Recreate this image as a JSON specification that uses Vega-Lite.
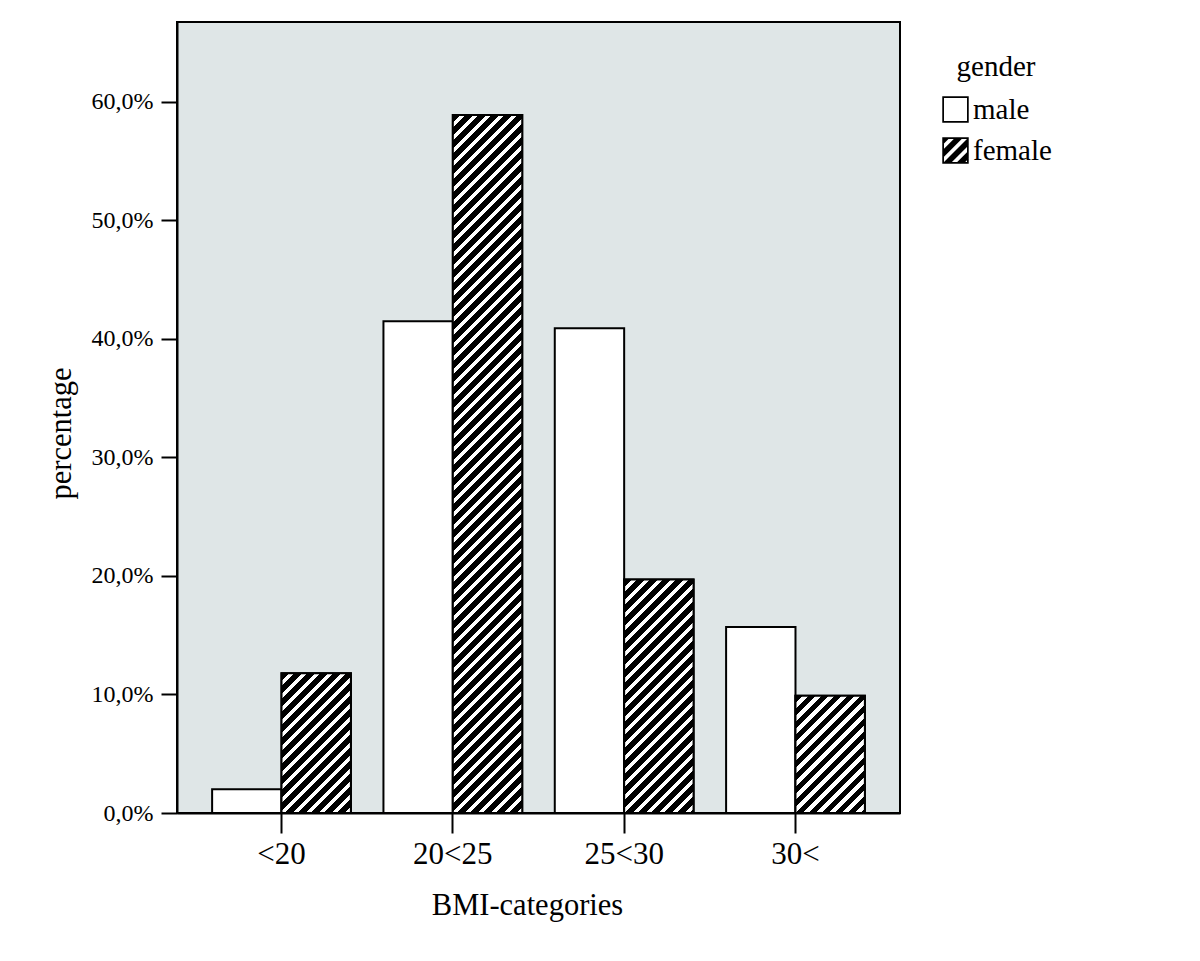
{
  "$schema": "https://vega.github.io/schema/vega-lite/v6.json",
  "width": 723,
  "height": 791,
  "autosize": {"type": "none"},
  "padding": {"left": 177, "top": 22, "right": 300, "bottom": 148},
  "background": "white",
  "params": [
    {"name": "hatch", "value": [
      {"offset":0,"color":"#000"},{"offset":0.006,"color":"#000"},{"offset":0.006,"color":"#fff"},{"offset":0.01,"color":"#fff"},
      {"offset":0.01,"color":"#000"},{"offset":0.016,"color":"#000"},{"offset":0.016,"color":"#fff"},{"offset":0.02,"color":"#fff"},
      {"offset":0.02,"color":"#000"},{"offset":0.026,"color":"#000"},{"offset":0.026,"color":"#fff"},{"offset":0.03,"color":"#fff"},
      {"offset":0.03,"color":"#000"},{"offset":0.036,"color":"#000"},{"offset":0.036,"color":"#fff"},{"offset":0.04,"color":"#fff"},
      {"offset":0.04,"color":"#000"},{"offset":0.046,"color":"#000"},{"offset":0.046,"color":"#fff"},{"offset":0.05,"color":"#fff"},
      {"offset":0.05,"color":"#000"},{"offset":0.056,"color":"#000"},{"offset":0.056,"color":"#fff"},{"offset":0.06,"color":"#fff"},
      {"offset":0.06,"color":"#000"},{"offset":0.066,"color":"#000"},{"offset":0.066,"color":"#fff"},{"offset":0.07,"color":"#fff"},
      {"offset":0.07,"color":"#000"},{"offset":0.076,"color":"#000"},{"offset":0.076,"color":"#fff"},{"offset":0.08,"color":"#fff"},
      {"offset":0.08,"color":"#000"},{"offset":0.086,"color":"#000"},{"offset":0.086,"color":"#fff"},{"offset":0.09,"color":"#fff"},
      {"offset":0.09,"color":"#000"},{"offset":0.096,"color":"#000"},{"offset":0.096,"color":"#fff"},{"offset":0.1,"color":"#fff"},
      {"offset":0.1,"color":"#000"},{"offset":0.106,"color":"#000"},{"offset":0.106,"color":"#fff"},{"offset":0.11,"color":"#fff"},
      {"offset":0.11,"color":"#000"},{"offset":0.116,"color":"#000"},{"offset":0.116,"color":"#fff"},{"offset":0.12,"color":"#fff"},
      {"offset":0.12,"color":"#000"},{"offset":0.126,"color":"#000"},{"offset":0.126,"color":"#fff"},{"offset":0.13,"color":"#fff"},
      {"offset":0.13,"color":"#000"},{"offset":0.136,"color":"#000"},{"offset":0.136,"color":"#fff"},{"offset":0.14,"color":"#fff"},
      {"offset":0.14,"color":"#000"},{"offset":0.146,"color":"#000"},{"offset":0.146,"color":"#fff"},{"offset":0.15,"color":"#fff"},
      {"offset":0.15,"color":"#000"},{"offset":0.156,"color":"#000"},{"offset":0.156,"color":"#fff"},{"offset":0.16,"color":"#fff"},
      {"offset":0.16,"color":"#000"},{"offset":0.166,"color":"#000"},{"offset":0.166,"color":"#fff"},{"offset":0.17,"color":"#fff"},
      {"offset":0.17,"color":"#000"},{"offset":0.176,"color":"#000"},{"offset":0.176,"color":"#fff"},{"offset":0.18,"color":"#fff"},
      {"offset":0.18,"color":"#000"},{"offset":0.186,"color":"#000"},{"offset":0.186,"color":"#fff"},{"offset":0.19,"color":"#fff"},
      {"offset":0.19,"color":"#000"},{"offset":0.196,"color":"#000"},{"offset":0.196,"color":"#fff"},{"offset":0.2,"color":"#fff"},
      {"offset":0.2,"color":"#000"},{"offset":0.206,"color":"#000"},{"offset":0.206,"color":"#fff"},{"offset":0.21,"color":"#fff"},
      {"offset":0.21,"color":"#000"},{"offset":0.216,"color":"#000"},{"offset":0.216,"color":"#fff"},{"offset":0.22,"color":"#fff"},
      {"offset":0.22,"color":"#000"},{"offset":0.226,"color":"#000"},{"offset":0.226,"color":"#fff"},{"offset":0.23,"color":"#fff"},
      {"offset":0.23,"color":"#000"},{"offset":0.236,"color":"#000"},{"offset":0.236,"color":"#fff"},{"offset":0.24,"color":"#fff"},
      {"offset":0.24,"color":"#000"},{"offset":0.246,"color":"#000"},{"offset":0.246,"color":"#fff"},{"offset":0.25,"color":"#fff"},
      {"offset":0.25,"color":"#000"},{"offset":0.256,"color":"#000"},{"offset":0.256,"color":"#fff"},{"offset":0.26,"color":"#fff"},
      {"offset":0.26,"color":"#000"},{"offset":0.266,"color":"#000"},{"offset":0.266,"color":"#fff"},{"offset":0.27,"color":"#fff"},
      {"offset":0.27,"color":"#000"},{"offset":0.276,"color":"#000"},{"offset":0.276,"color":"#fff"},{"offset":0.28,"color":"#fff"},
      {"offset":0.28,"color":"#000"},{"offset":0.286,"color":"#000"},{"offset":0.286,"color":"#fff"},{"offset":0.29,"color":"#fff"},
      {"offset":0.29,"color":"#000"},{"offset":0.296,"color":"#000"},{"offset":0.296,"color":"#fff"},{"offset":0.3,"color":"#fff"},
      {"offset":0.3,"color":"#000"},{"offset":0.306,"color":"#000"},{"offset":0.306,"color":"#fff"},{"offset":0.31,"color":"#fff"},
      {"offset":0.31,"color":"#000"},{"offset":0.316,"color":"#000"},{"offset":0.316,"color":"#fff"},{"offset":0.32,"color":"#fff"},
      {"offset":0.32,"color":"#000"},{"offset":0.326,"color":"#000"},{"offset":0.326,"color":"#fff"},{"offset":0.33,"color":"#fff"},
      {"offset":0.33,"color":"#000"},{"offset":0.336,"color":"#000"},{"offset":0.336,"color":"#fff"},{"offset":0.34,"color":"#fff"},
      {"offset":0.34,"color":"#000"},{"offset":0.346,"color":"#000"},{"offset":0.346,"color":"#fff"},{"offset":0.35,"color":"#fff"},
      {"offset":0.35,"color":"#000"},{"offset":0.356,"color":"#000"},{"offset":0.356,"color":"#fff"},{"offset":0.36,"color":"#fff"},
      {"offset":0.36,"color":"#000"},{"offset":0.366,"color":"#000"},{"offset":0.366,"color":"#fff"},{"offset":0.37,"color":"#fff"},
      {"offset":0.37,"color":"#000"},{"offset":0.376,"color":"#000"},{"offset":0.376,"color":"#fff"},{"offset":0.38,"color":"#fff"},
      {"offset":0.38,"color":"#000"},{"offset":0.386,"color":"#000"},{"offset":0.386,"color":"#fff"},{"offset":0.39,"color":"#fff"},
      {"offset":0.39,"color":"#000"},{"offset":0.396,"color":"#000"},{"offset":0.396,"color":"#fff"},{"offset":0.4,"color":"#fff"},
      {"offset":0.4,"color":"#000"},{"offset":0.406,"color":"#000"},{"offset":0.406,"color":"#fff"},{"offset":0.41,"color":"#fff"},
      {"offset":0.41,"color":"#000"},{"offset":0.416,"color":"#000"},{"offset":0.416,"color":"#fff"},{"offset":0.42,"color":"#fff"},
      {"offset":0.42,"color":"#000"},{"offset":0.426,"color":"#000"},{"offset":0.426,"color":"#fff"},{"offset":0.43,"color":"#fff"},
      {"offset":0.43,"color":"#000"},{"offset":0.436,"color":"#000"},{"offset":0.436,"color":"#fff"},{"offset":0.44,"color":"#fff"},
      {"offset":0.44,"color":"#000"},{"offset":0.446,"color":"#000"},{"offset":0.446,"color":"#fff"},{"offset":0.45,"color":"#fff"},
      {"offset":0.45,"color":"#000"},{"offset":0.456,"color":"#000"},{"offset":0.456,"color":"#fff"},{"offset":0.46,"color":"#fff"},
      {"offset":0.46,"color":"#000"},{"offset":0.466,"color":"#000"},{"offset":0.466,"color":"#fff"},{"offset":0.47,"color":"#fff"},
      {"offset":0.47,"color":"#000"},{"offset":0.476,"color":"#000"},{"offset":0.476,"color":"#fff"},{"offset":0.48,"color":"#fff"},
      {"offset":0.48,"color":"#000"},{"offset":0.486,"color":"#000"},{"offset":0.486,"color":"#fff"},{"offset":0.49,"color":"#fff"},
      {"offset":0.49,"color":"#000"},{"offset":0.496,"color":"#000"},{"offset":0.496,"color":"#fff"},{"offset":0.5,"color":"#fff"},
      {"offset":0.5,"color":"#000"},{"offset":0.506,"color":"#000"},{"offset":0.506,"color":"#fff"},{"offset":0.51,"color":"#fff"},
      {"offset":0.51,"color":"#000"},{"offset":0.516,"color":"#000"},{"offset":0.516,"color":"#fff"},{"offset":0.52,"color":"#fff"},
      {"offset":0.52,"color":"#000"},{"offset":0.526,"color":"#000"},{"offset":0.526,"color":"#fff"},{"offset":0.53,"color":"#fff"},
      {"offset":0.53,"color":"#000"},{"offset":0.536,"color":"#000"},{"offset":0.536,"color":"#fff"},{"offset":0.54,"color":"#fff"},
      {"offset":0.54,"color":"#000"},{"offset":0.546,"color":"#000"},{"offset":0.546,"color":"#fff"},{"offset":0.55,"color":"#fff"},
      {"offset":0.55,"color":"#000"},{"offset":0.556,"color":"#000"},{"offset":0.556,"color":"#fff"},{"offset":0.56,"color":"#fff"},
      {"offset":0.56,"color":"#000"},{"offset":0.566,"color":"#000"},{"offset":0.566,"color":"#fff"},{"offset":0.57,"color":"#fff"},
      {"offset":0.57,"color":"#000"},{"offset":0.576,"color":"#000"},{"offset":0.576,"color":"#fff"},{"offset":0.58,"color":"#fff"},
      {"offset":0.58,"color":"#000"},{"offset":0.586,"color":"#000"},{"offset":0.586,"color":"#fff"},{"offset":0.59,"color":"#fff"},
      {"offset":0.59,"color":"#000"},{"offset":0.596,"color":"#000"},{"offset":0.596,"color":"#fff"},{"offset":0.6,"color":"#fff"},
      {"offset":0.6,"color":"#000"},{"offset":0.606,"color":"#000"},{"offset":0.606,"color":"#fff"},{"offset":0.61,"color":"#fff"},
      {"offset":0.61,"color":"#000"},{"offset":1,"color":"#000"}
    ]}
  ],
  "data": {"values": [
    {"bmi": "<20", "gender": "male", "pct": 0.020},
    {"bmi": "<20", "gender": "female", "pct": 0.118},
    {"bmi": "20<25", "gender": "male", "pct": 0.415},
    {"bmi": "20<25", "gender": "female", "pct": 0.589},
    {"bmi": "25<30", "gender": "male", "pct": 0.409},
    {"bmi": "25<30", "gender": "female", "pct": 0.197},
    {"bmi": "30<", "gender": "male", "pct": 0.157},
    {"bmi": "30<", "gender": "female", "pct": 0.099}
  ]},
  "encoding": {
    "x": {
      "field": "bmi", "type": "nominal",
      "sort": ["<20", "20<25", "25<30", "30<"],
      "scale": {"paddingInner": 0.19, "paddingOuter": 0.205},
      "axis": {
        "title": "BMI-categories", "labelAngle": 0, "tickSize": 20, "tickWidth": 2,
        "domainWidth": 2, "domainColor": "black", "tickColor": "black",
        "labelFontSize": 31, "labelPadding": 6, "titleFontSize": 30.5,
        "titleFontWeight": "normal", "titlePadding": 21, "titleX": 350,
        "labelColor": "black", "titleColor": "black"
      }
    },
    "xOffset": {
      "field": "gender", "type": "nominal",
      "sort": ["male", "female"],
      "scale": {"domain": ["male", "female"], "paddingInner": 0, "paddingOuter": 0}
    },
    "y": {
      "field": "pct", "type": "quantitative",
      "scale": {"domain": [0, 0.6675], "nice": false, "zero": true},
      "axis": {
        "title": "percentage", "values": [0, 0.1, 0.2, 0.3, 0.4, 0.5, 0.6],
        "labelExpr": "replace(format(datum.value, '.1%'), '.', ',')",
        "grid": false, "tickSize": 16, "tickWidth": 2, "domainWidth": 2,
        "domainColor": "black", "tickColor": "black",
        "labelFontSize": 24, "labelPadding": 8, "titleFontSize": 30.5,
        "titleFontWeight": "normal", "titlePadding": 15, "titleY": 411,
        "labelColor": "black", "titleColor": "black"
      }
    }
  },
  "layer": [
    {
      "mark": {"type": "bar", "stroke": "black", "strokeWidth": 2, "fill": "white"}
    },
    {
      "transform": [{"filter": "datum.gender === 'female'"}],
      "mark": {
        "type": "bar", "stroke": "black", "strokeWidth": 2,
        "fill": {"expr": "{gradient: 'linear', x1: 0, y1: 0, x2: 69.4*1300/(4816 + pow(datum.pct*1185, 2)), y2: datum.pct*1185*1300/(4816 + pow(datum.pct*1185, 2)), stops: hatch}"}
      }
    },
    {
      "mark": {"type": "point", "filled": true, "color": "black", "opacity": 0, "strokeWidth": 0},
      "encoding": {
        "shape": {
          "field": "gender", "type": "nominal",
          "scale": {
            "domain": ["male", "female"],
            "range": [
              "M-1,-1H1V1H-1Z M-0.87,-0.87V0.87H0.87V-0.87Z",
              "M-1,-1H1V1H-1Z M-0.87,-0.87V0.87H0.87V-0.87Z M-1,-1L-0.4,-1L-1,-0.4Z M0,-1L0.6,-1L-1,0.6L-1,0Z M1,-1L1,-0.4L-0.4,1L-1,1Z M1,0L1,0.6L0.6,1L0,1Z"
            ]
          },
          "legend": {
            "orient": "none", "legendX": 764, "legendY": 31,
            "title": "gender", "titleAnchor": "middle", "symbolSize": 700,
            "symbolFillColor": "black", "symbolStrokeWidth": 0, "symbolOpacity": 1,
            "labelFontSize": 29, "titleFontSize": 29, "titleFontWeight": "normal",
            "labelColor": "black", "titleColor": "black",
            "rowPadding": 11, "labelOffset": 3, "titlePadding": 13
          }
        }
      }
    }
  ],
  "config": {
    "view": {"fill": "#dfe6e7", "stroke": "black", "strokeWidth": 2},
    "font": "Liberation Serif"
  }
}
